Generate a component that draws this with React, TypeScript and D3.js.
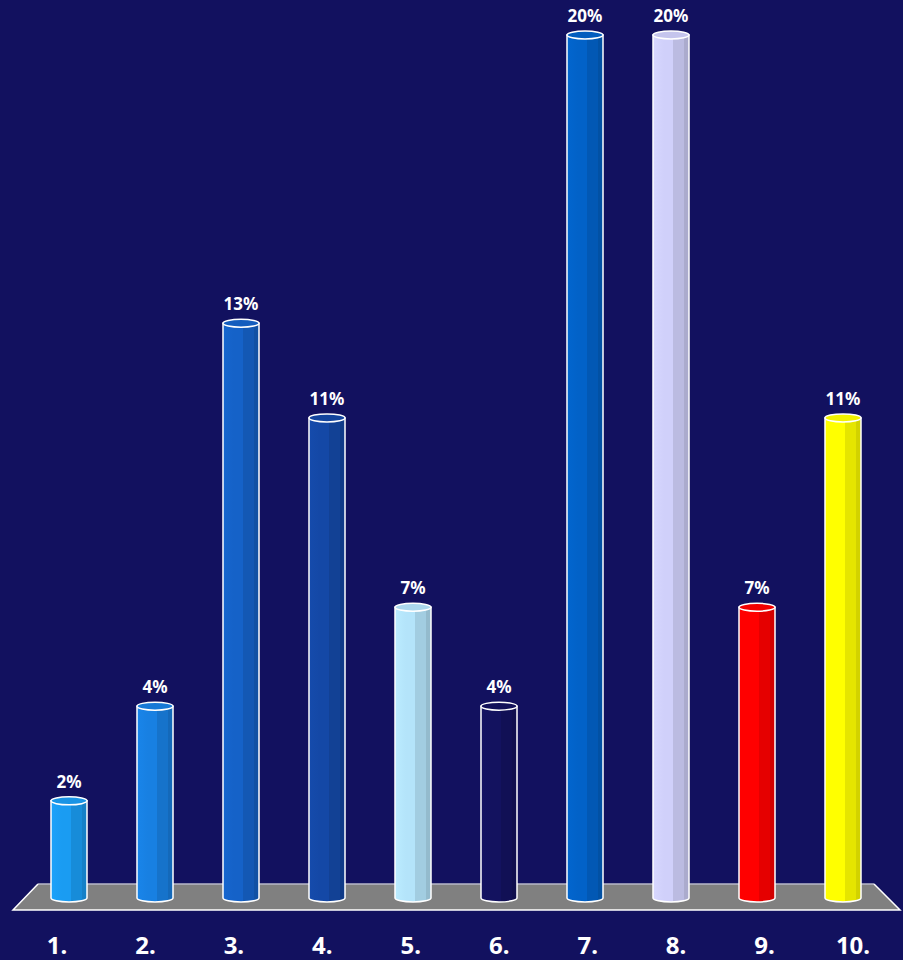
import React from "react";
import * as d3 from "d3";

const categories = ["1.", "2.", "3.", "4.", "5.", "6.", "7.", "8.", "9.", "10."];
const values = [2.2, 4.4, 13.3, 11.1, 6.7, 4.4, 20.0, 20.0, 6.7, 11.1];
const barColors = ["#1a9cf2", "#1880e2", "#1562c8", "#1448a6", "#b4e4fa", "#13125f", "#0262c8", "#d0d0fa", "#ff0000", "#ffff00"];

const W = 903;
const H = 960;
const BG = "#12115f";

export default function App() {
  const x = d3.scalePoint<string>().domain(categories).range([69, 843]);
  const xLabel = d3.scalePoint<string>().domain(categories).range([57, 853]);
  const y = d3.scaleLinear().domain([0, 20]).range([895.5, 35]);
  const bw = 36;
  const rx = bw / 2;
  const ry = 4;
  const bottom = 898;

  return (
    <svg width={W} height={H} style={{ display: "block", position: "absolute", left: 0, top: 0 }}>
      <defs>
        {barColors.map((c, i) => {
          const base = d3.color(c)!;
          const dark = base.darker(0.3).formatHex();
          const darker = base.darker(0.55).formatHex();
          const light = base.brighter(0.1).formatHex();
          return (
            <linearGradient key={i} id={`g${i}`} x1="0" x2="1" y1="0" y2="0">
              <stop offset="0" stopColor={light} />
              <stop offset="0.3" stopColor={c} />
              <stop offset="0.55" stopColor={c} />
              <stop offset="0.56" stopColor={dark} />
              <stop offset="0.85" stopColor={dark} />
              <stop offset="0.86" stopColor={darker} />
              <stop offset="1" stopColor={darker} />
            </linearGradient>
          );
        })}
      </defs>
      <rect x={0} y={0} width={W} height={H} fill={BG} />
      {/* floor */}
      <path d="M38,884 L874,884 L900,910 L13,910 Z" fill="#808080" />
      <line x1={38} y1={884} x2={874} y2={884} stroke="#b8b8c8" strokeWidth={1.5} />
      <path d="M38,884 L13,910 L900,910 L874,884" fill="none" stroke="#ffffff" strokeWidth={1.5} />

      {categories.map((cat, i) => {
        const cx = x(cat)!;
        const top = y(values[i]);
        const l = cx - rx;
        const r = cx + rx;
        const body = `M${l},${top} L${l},${bottom} A${rx},${ry} 0 0 0 ${r},${bottom} L${r},${top} Z`;
        const topFill = d3.color(barColors[i])!.darker(0.15).formatHex();
        return (
          <g key={cat}>
            <path d={body} fill={`url(#g${i})`} stroke="#ffffff" strokeWidth={1.5} />
            <ellipse cx={cx} cy={top} rx={rx} ry={ry} fill={topFill} stroke="#ffffff" strokeWidth={1.5} />
            <text
              x={cx}
              y={top - 13}
              textAnchor="middle"
              fill="#ffffff"
              fontFamily="'Noto Sans', 'Open Sans', sans-serif"
              fontWeight="bold"
              fontSize={17}
            >
              {`${Math.round(values[i])}%`}
            </text>
            <text
              x={xLabel(cat)!}
              y={954}
              textAnchor="middle"
              fill="#ffffff"
              fontFamily="'Noto Sans', 'Open Sans', sans-serif"
              fontWeight="bold"
              fontSize={24}
            >
              {cat}
            </text>
          </g>
        );
      })}
    </svg>
  );
}
